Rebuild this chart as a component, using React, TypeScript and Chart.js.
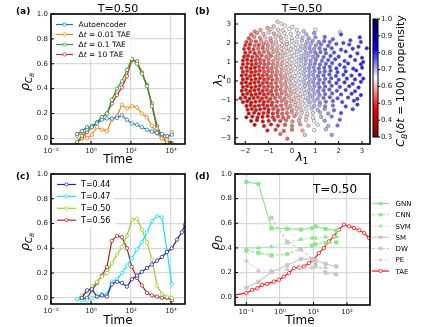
import { useEffect, useRef } from 'react';
import { Chart, registerables } from 'chart.js';

Chart.register(...registerables);

const W = 424;
const H = 327;
const FF = "'DejaVu Sans', sans-serif";
const YW = 30;
const XH = 16;

// ---------------- Panel (a) ----------------
const timeA = [0.2, 0.35, 0.63, 1.1, 2, 3.5, 6.3, 11, 20, 35, 63, 110, 200, 350, 630, 1100, 2000, 3500, 6300, 11000];
const autoencoderA = [0.035, 0.06, 0.09, 0.09, 0.12, 0.15, 0.16, 0.16, 0.165, 0.185, 0.15, 0.12, 0.11, 0.09, 0.07, 0.055, 0.045, 0.035, 0.02, 0.03];
const tae001A = [0.02, 0.05, 0.0, 0.03, 0.09, 0.07, 0.06, 0.15, 0.18, 0.27, 0.24, 0.26, 0.25, 0.2, 0.17, 0.1, 0.04, 0.0, -0.01, 0.05];
const tae01A = [-0.03, 0.02, 0.07, 0.1, 0.13, 0.17, 0.2, 0.31, 0.4, 0.46, 0.55, 0.64, 0.6, 0.52, 0.42, 0.26, 0.08, 0.0, -0.03, -0.04];
const tae10A = [-0.035, 0.0, 0.05, 0.09, 0.13, 0.17, 0.2, 0.28, 0.35, 0.41, 0.5, 0.63, 0.62, 0.53, 0.43, 0.28, 0.1, 0.02, -0.01, -0.04];

// ---------------- Panel (c) ----------------
const timeC = [0.2, 0.35, 0.63, 1.1, 2, 3.5, 6.3, 11, 20, 35, 63, 110, 200, 350, 630, 1100, 2000, 3500, 6300, 11000, 20000, 35000, 50000];
const t044C = [null, 0.0, 0.06, 0.07, 0.01, 0.02, 0.01, 0.11, 0.13, 0.12, 0.09, 0.15, 0.18, 0.21, 0.24, 0.27, 0.3, 0.33, 0.37, 0.4, 0.47, 0.53, 0.59];
const t047C = [-0.01, -0.02, -0.02, 0.0, 0.01, 0.03, 0.03, 0.13, 0.15, 0.2, 0.26, 0.32, 0.39, 0.45, 0.53, 0.62, 0.66, 0.65, 0.38, 0.11, null, null, null];
const t050C = [-0.01, 0.02, 0.05, 0.09, 0.13, 0.17, 0.2, 0.28, 0.35, 0.41, 0.5, 0.63, 0.64, 0.55, 0.45, 0.31, 0.1, 0.03, 0.01, 0.0, null, null, null];
const t056C = [null, -0.01, 0.0, 0.06, 0.12, 0.18, 0.25, 0.46, 0.5, 0.49, 0.4, 0.25, 0.16, 0.1, 0.04, 0.02, 0.01, 0.0, 0.0, -0.02, null, null, null];

// ---------------- Panel (d) ----------------
const timeD = [0.1, 0.23, 0.56, 1.66, 4.2, 9.1, 11.5, 23, 48];
const gnnD = [0.935, 0.92, 0.56, 0.555, 0.55, 0.56, 0.575, 0.555, 0.54];
const cnnD = [0.38, 0.36, 0.34, 0.35, 0.39, 0.42, 0.43, 0.44, 0.445];
const svmD = [0.39, 0.4, 0.41, 0.44, 0.47, 0.48, 0.48, 0.49, 0.49];
const smD = [0.075, 0.125, 0.205, 0.26, 0.31, 0.31, 0.3, 0.27, 0.25];
const dwD = [null, null, 0.645, 0.45, 0.39, 0.31, 0.27, 0.2, 0.185];
const peD = [0.295, 0.215, 0.215, 0.225, 0.235, 0.24, 0.245, 0.24, null];
const timeTaeD = [0.0316, 0.1, 0.148, 0.214, 0.295, 0.417, 0.661, 0.933, 1.32, 1.86, 2.63, 3.72, 5.25, 7.41, 10.2, 14.5, 20.4, 28.8, 40.7, 57.5, 81.3, 115, 162, 229, 324, 457, 708];
const taeD = [0.012, 0.033, 0.06, 0.073, 0.1, 0.108, 0.127, 0.141, 0.168, 0.195, 0.236, 0.241, 0.25, 0.277, 0.304, 0.358, 0.399, 0.453, 0.494, 0.548, 0.589, 0.575, 0.562, 0.543, 0.521, 0.481, 0.42];

// ---------------- Panel (b): [lambda1, lambda2, C_B propensity] ----------------
const scatterPoints = [
  [-0.62,3.12,.62],[-0.45,3.02,.64],
  [-1.05,2.8,.59],[-0.78,2.88,.61],[-0.3,2.92,.64],[0.02,2.85,.66],
  [-1.6,2.6,.57],[-1.35,2.68,.59],[-0.92,2.72,.61],[-0.6,2.7,.62],[-0.4,2.66,.63],[-0.12,2.74,.65],[0.2,2.68,.66],[0.5,2.62,.69],[1.0,2.7,.66],[2.05,2.58,.67],
  [-1.75,2.45,.54],[-1.5,2.52,.57],[-1.22,2.48,.59],[-1.0,2.55,.61],[-0.78,2.5,.59],[-0.55,2.45,.62],[-0.32,2.52,.64],[-0.05,2.48,.66],[0.28,2.5,.67],[0.62,2.45,.7],[0.95,2.52,.72],[1.4,2.32,.76],[2.1,2.45,.78],[2.9,2.3,.79],
  [-1.85,2.25,.52],[-1.62,2.32,.56],[-1.38,2.28,.57],[-1.15,2.3,.61],[-0.92,2.25,.59],[-0.7,2.32,.62],[-0.48,2.28,.61],[-0.25,2.3,.64],[0.0,2.25,.66],[0.22,2.32,.67],[0.45,2.28,.69],[0.72,2.25,.71],[1.0,2.3,.73],[1.75,2.2,.76],[2.5,2.14,.78],
  [-1.95,2.05,.51],[-1.75,2.1,.54],[-1.55,2.08,.52],[-1.32,2.12,.57],[-1.1,2.05,.59],[-0.9,2.1,.57],[-0.68,2.08,.61],[-0.45,2.12,.62],[-0.22,2.05,.64],[0.0,2.1,.66],[0.2,2.05,.66],[0.42,2.12,.69],[0.65,2.08,.7],[0.88,2.1,.72],[1.15,2.05,.74],[1.38,2.1,.75],[1.62,2.05,.76],[2.2,2.0,.78],[2.95,2.05,.79],
  [-2.0,1.88,.5],[-1.8,1.92,.49],[-1.6,1.86,.54],[-1.42,1.9,.52],[-1.22,1.94,.56],[-1.02,1.88,.57],[-0.82,1.92,.59],[-0.62,1.86,.61],[-0.42,1.9,.62],[-0.22,1.94,.61],[-0.02,1.88,.65],[0.18,1.92,.66],[0.38,1.86,.68],[0.58,1.9,.7],[0.8,1.94,.7],[1.02,1.88,.72],[1.25,1.92,.74],[1.55,1.85,.76],[1.9,1.95,.77],[2.45,1.92,.78],[2.85,1.8,.79],[3.2,1.72,.8],
  [-2.05,1.68,.49],[-1.85,1.72,.48],[-1.65,1.66,.51],[-1.45,1.7,.54],[-1.25,1.74,.52],[-1.05,1.68,.57],[-0.85,1.72,.58],[-0.65,1.66,.59],[-0.45,1.7,.62],[-0.25,1.74,.63],[-0.05,1.68,.62],[0.15,1.72,.66],[0.35,1.66,.68],[0.55,1.7,.7],[0.75,1.74,.72],[0.95,1.68,.72],[1.18,1.72,.74],[1.42,1.66,.76],[1.7,1.72,.77],[2.1,1.65,.78],[2.6,1.7,.79],
  [-2.0,1.48,.48],[-1.8,1.52,.5],[-1.6,1.46,.49],[-1.4,1.5,.52],[-1.2,1.54,.54],[-1.0,1.48,.55],[-0.8,1.52,.58],[-0.6,1.46,.59],[-0.4,1.5,.61],[-0.2,1.54,.63],[0.0,1.48,.65],[0.2,1.52,.67],[0.4,1.46,.66],[0.6,1.5,.7],[0.8,1.54,.72],[1.0,1.48,.74],[1.22,1.52,.75],[1.45,1.46,.76],[1.8,1.5,.77],[2.3,1.55,.78],[2.8,1.45,.79],
  [-2.05,1.28,.48],[-1.88,1.32,.48],[-1.7,1.26,.49],[-1.5,1.3,.51],[-1.3,1.34,.52],[-1.1,1.28,.55],[-0.9,1.32,.54],[-0.7,1.26,.58],[-0.5,1.3,.61],[-0.3,1.34,.62],[-0.1,1.28,.63],[0.1,1.32,.66],[0.3,1.26,.67],[0.5,1.3,.69],[0.7,1.34,.7],[0.9,1.28,.72],[1.1,1.32,.74],[1.35,1.26,.76],[1.65,1.32,.77],[2.0,1.28,.78],[2.5,1.3,.79],[3.0,1.22,.8],
  [-2.1,1.08,.48],[-1.92,1.12,.48],[-1.74,1.06,.48],[-1.56,1.1,.5],[-1.38,1.14,.51],[-1.2,1.08,.53],[-1.0,1.12,.55],[-0.8,1.06,.57],[-0.6,1.1,.59],[-0.4,1.14,.61],[-0.2,1.08,.62],[0.0,1.12,.65],[0.2,1.06,.67],[0.4,1.1,.69],[0.6,1.14,.7],[0.8,1.08,.72],[1.02,1.12,.74],[1.28,1.06,.75],[1.55,1.1,.77],[1.85,1.14,.78],[2.25,1.05,.78],[2.7,1.1,.79],[3.05,1.0,.8],
  [-2.1,0.88,.47],[-1.9,0.92,.48],[-1.72,0.86,.48],[-1.54,0.9,.49],[-1.36,0.94,.51],[-1.18,0.88,.52],[-1.0,0.92,.53],[-0.82,0.86,.56],[-0.62,0.9,.57],[-0.42,0.94,.59],[-0.22,0.88,.62],[-0.02,0.92,.63],[0.18,0.86,.66],[0.38,0.9,.67],[0.58,0.94,.7],[0.78,0.88,.72],[0.98,0.92,.74],[1.2,0.86,.75],[1.45,0.9,.76],[1.72,0.94,.77],[2.05,0.85,.78],[2.4,0.92,.79],[2.95,0.88,.8],
  [-2.15,0.68,.48],[-1.95,0.72,.46],[-1.77,0.66,.48],[-1.59,0.7,.48],[-1.41,0.74,.5],[-1.23,0.68,.51],[-1.05,0.72,.53],[-0.87,0.66,.54],[-0.67,0.7,.57],[-0.47,0.74,.59],[-0.27,0.68,.61],[-0.07,0.72,.63],[0.13,0.66,.65],[0.33,0.7,.67],[0.53,0.74,.69],[0.73,0.68,.72],[0.93,0.72,.73],[1.15,0.66,.75],[1.38,0.7,.76],[1.62,0.74,.77],[1.9,0.66,.78],[2.25,0.72,.78],[2.62,0.65,.79],[3.0,0.7,.8],
  [-2.1,0.48,.47],[-1.92,0.52,.48],[-1.74,0.46,.46],[-1.56,0.5,.49],[-1.38,0.54,.5],[-1.2,0.48,.51],[-1.02,0.52,.52],[-0.84,0.46,.54],[-0.64,0.5,.56],[-0.44,0.54,.59],[-0.24,0.48,.61],[-0.04,0.52,.62],[0.16,0.46,.65],[0.36,0.5,.67],[0.56,0.54,.69],[0.76,0.48,.71],[0.96,0.52,.73],[1.18,0.46,.75],[1.4,0.5,.76],[1.65,0.54,.77],[1.95,0.46,.78],[2.3,0.5,.79],[2.75,0.55,.8],
  [-2.15,0.28,.46],[-1.97,0.32,.48],[-1.79,0.26,.46],[-1.61,0.3,.48],[-1.43,0.34,.49],[-1.25,0.28,.5],[-1.07,0.32,.51],[-0.89,0.26,.53],[-0.69,0.3,.54],[-0.49,0.34,.57],[-0.29,0.28,.59],[-0.09,0.32,.62],[0.11,0.26,.64],[0.31,0.3,.66],[0.51,0.34,.69],[0.71,0.28,.71],[0.91,0.32,.72],[1.12,0.26,.75],[1.35,0.3,.76],[1.6,0.34,.77],[1.88,0.26,.78],[2.2,0.32,.78],[2.55,0.28,.79],[2.9,0.32,.8],
  [-2.1,0.08,.45],[-1.92,0.12,.46],[-1.74,0.06,.48],[-1.56,0.1,.46],[-1.38,0.14,.48],[-1.2,0.08,.5],[-1.02,0.12,.51],[-0.84,0.06,.52],[-0.64,0.1,.54],[-0.44,0.14,.57],[-0.24,0.08,.59],[-0.04,0.12,.61],[0.16,0.06,.64],[0.36,0.1,.66],[0.56,0.14,.69],[0.76,0.08,.7],[0.96,0.12,.72],[1.18,0.06,.75],[1.42,0.1,.76],[1.68,0.14,.77],[2.0,0.06,.78],[2.35,0.12,.79],[2.7,0.08,.79],[3.05,0.12,.8],
  [-2.15,-0.12,.45],[-1.97,-0.08,.46],[-1.79,-0.14,.45],[-1.61,-0.1,.48],[-1.43,-0.06,.48],[-1.25,-0.12,.5],[-1.07,-0.08,.5],[-0.89,-0.14,.52],[-0.69,-0.1,.53],[-0.49,-0.06,.57],[-0.29,-0.12,.57],[-0.09,-0.08,.61],[0.11,-0.14,.62],[0.31,-0.1,.66],[0.51,-0.06,.69],[0.71,-0.12,.7],[0.91,-0.08,.72],[1.12,-0.14,.74],[1.35,-0.1,.76],[1.6,-0.06,.77],[1.9,-0.12,.78],[2.25,-0.08,.79],[2.6,-0.15,.79],[2.95,-0.05,.8],
  [-2.1,-0.32,.45],[-1.92,-0.28,.46],[-1.74,-0.34,.46],[-1.56,-0.3,.48],[-1.38,-0.26,.48],[-1.2,-0.32,.5],[-1.02,-0.28,.51],[-0.84,-0.34,.52],[-0.64,-0.3,.53],[-0.44,-0.26,.57],[-0.24,-0.32,.57],[-0.04,-0.28,.61],[0.16,-0.34,.62],[0.36,-0.3,.66],[0.56,-0.26,.69],[0.76,-0.32,.7],[0.96,-0.28,.72],[1.18,-0.34,.75],[1.42,-0.3,.76],[1.7,-0.26,.77],[2.05,-0.32,.78],[2.45,-0.28,.79],[2.85,-0.35,.8],
  [-2.15,-0.52,.44],[-1.97,-0.48,.45],[-1.79,-0.54,.46],[-1.61,-0.5,.46],[-1.43,-0.46,.48],[-1.25,-0.52,.48],[-1.07,-0.48,.5],[-0.89,-0.54,.51],[-0.69,-0.5,.53],[-0.49,-0.46,.55],[-0.29,-0.52,.57],[-0.09,-0.48,.59],[0.11,-0.54,.62],[0.31,-0.5,.64],[0.51,-0.46,.67],[0.71,-0.52,.69],[0.91,-0.48,.71],[1.12,-0.54,.73],[1.35,-0.5,.75],[1.6,-0.46,.76],[1.92,-0.52,.77],[2.3,-0.48,.78],[2.7,-0.55,.79],
  [-2.1,-0.72,.44],[-1.92,-0.68,.46],[-1.74,-0.74,.44],[-1.56,-0.7,.48],[-1.38,-0.66,.48],[-1.2,-0.72,.48],[-1.02,-0.68,.5],[-0.84,-0.74,.51],[-0.64,-0.7,.53],[-0.44,-0.66,.55],[-0.24,-0.72,.57],[-0.04,-0.68,.59],[0.16,-0.74,.62],[0.36,-0.7,.64],[0.56,-0.66,.67],[0.76,-0.72,.7],[0.96,-0.68,.71],[1.18,-0.74,.73],[1.42,-0.7,.75],[1.72,-0.66,.76],[2.1,-0.72,.78],[2.55,-0.68,.79],[2.95,-0.75,.8],
  [-2.2,-0.92,.44],[-2.0,-0.88,.44],[-1.82,-0.94,.46],[-1.64,-0.9,.46],[-1.46,-0.86,.48],[-1.28,-0.92,.48],[-1.1,-0.88,.5],[-0.92,-0.94,.5],[-0.72,-0.9,.52],[-0.52,-0.86,.55],[-0.32,-0.92,.56],[-0.12,-0.88,.59],[0.08,-0.94,.61],[0.28,-0.9,.62],[0.48,-0.86,.66],[0.68,-0.92,.69],[0.88,-0.88,.7],[1.1,-0.94,.72],[1.35,-0.9,.75],[1.62,-0.86,.76],[1.95,-0.92,.77],[2.4,-0.88,.78],[2.8,-0.95,.79],
  [-2.1,-1.12,.44],[-1.92,-1.08,.46],[-1.74,-1.14,.44],[-1.56,-1.1,.46],[-1.38,-1.06,.48],[-1.2,-1.12,.48],[-1.02,-1.08,.5],[-0.84,-1.14,.51],[-0.64,-1.1,.52],[-0.44,-1.06,.55],[-0.24,-1.12,.56],[-0.04,-1.08,.59],[0.16,-1.14,.61],[0.36,-1.1,.62],[0.56,-1.06,.66],[0.76,-1.12,.69],[0.96,-1.08,.7],[1.2,-1.14,.72],[1.45,-1.1,.75],[1.75,-1.06,.76],[2.15,-1.12,.78],[2.65,-1.05,.79],
  [-1.95,-1.32,.44],[-1.77,-1.28,.46],[-1.59,-1.34,.46],[-1.41,-1.3,.48],[-1.23,-1.26,.48],[-1.05,-1.32,.48],[-0.87,-1.28,.5],[-0.67,-1.34,.52],[-0.47,-1.3,.53],[-0.27,-1.26,.56],[-0.07,-1.32,.57],[0.13,-1.28,.61],[0.33,-1.34,.62],[0.53,-1.3,.64],[0.73,-1.26,.67],[0.95,-1.32,.7],[1.18,-1.28,.71],[1.42,-1.34,.73],[1.75,-1.3,.75],[2.3,-1.35,.78],[2.8,-1.25,.79],
  [-1.9,-1.52,.44],[-1.72,-1.48,.44],[-1.54,-1.54,.46],[-1.36,-1.5,.48],[-1.18,-1.46,.48],[-1.0,-1.52,.48],[-0.8,-1.48,.51],[-0.6,-1.54,.52],[-0.4,-1.5,.54],[-0.2,-1.46,.56],[0.0,-1.52,.59],[0.2,-1.48,.61],[0.4,-1.54,.62],[0.62,-1.5,.66],[0.85,-1.46,.69],[1.1,-1.52,.7],[1.4,-1.48,.72],[1.8,-1.55,.75],[2.6,-1.5,.78],
  [-1.85,-1.72,.42],[-1.62,-1.68,.44],[-1.42,-1.74,.46],[-1.22,-1.7,.48],[-1.02,-1.66,.48],[-0.82,-1.72,.5],[-0.62,-1.68,.51],[-0.42,-1.74,.53],[-0.22,-1.7,.54],[-0.02,-1.66,.57],[0.2,-1.72,.59],[0.42,-1.68,.62],[0.65,-1.74,.64],[0.9,-1.7,.67],[1.2,-1.66,.7],[1.55,-1.72,.72],[2.1,-1.7,.78],
  [-1.95,-1.92,.42],[-1.7,-1.88,.44],[-1.48,-1.94,.44],[-1.26,-1.9,.46],[-1.04,-1.86,.48],[-0.82,-1.92,.5],[-0.6,-1.88,.51],[-0.38,-1.94,.53],[-0.15,-1.9,.54],[0.1,-1.86,.57],[0.35,-1.92,.61],[0.62,-1.88,.62],[0.9,-1.94,.66],[1.25,-1.9,.7],[1.7,-1.88,.74],
  [-1.75,-2.12,.42],[-1.5,-2.08,.44],[-1.25,-2.14,.46],[-1.0,-2.1,.48],[-0.75,-2.06,.5],[-0.5,-2.12,.51],[-0.25,-2.08,.54],[0.02,-2.14,.56],[0.3,-2.1,.59],[0.6,-2.06,.62],[0.95,-2.12,.66],[1.4,-2.1,.72],[2.05,-2.05,.76],
  [-1.6,-2.32,.42],[-1.2,-2.38,.46],[-0.9,-2.3,.48],[-0.6,-2.36,.5],[-0.3,-2.32,.52],[0.0,-2.38,.55],[0.35,-2.3,.57],[0.7,-2.36,.61],[1.1,-2.32,.66],[1.55,-2.38,.7],[1.95,-2.35,.75],
  [-1.05,-2.62,.48],[-0.7,-2.58,.51],[-0.35,-2.64,.53],[0.0,-2.58,.55],[0.45,-2.62,.59],[0.95,-2.6,.64],[1.45,-2.55,.7],
  [-0.5,-2.8,.54],[0.55,-2.85,.61],[1.7,-2.85,.72],
  [-0.2,-3.05,.54],
];

// ---------------- Ticks ----------------
const timeTicksAC = [0.01, 1, 100, 10000];
const timeTickLabelsAC = ['10⁻²', '10⁰', '10²', '10⁴'];
const timeTicksD = [0.1, 1, 10, 100];
const timeTickLabelsD = ['10⁻¹', '10⁰', '10¹', '10²'];
const rhoTicks = [0, 0.2, 0.4, 0.6, 0.8, 1.0];
const rhoTickLabels = ['0.0', '0.2', '0.4', '0.6', '0.8', '1.0'];
const lambda1Ticks = [-2, -1, 0, 1, 2, 3];
const lambda1TickLabels = ['−2', '−1', '0', '1', '2', '3'];
const lambda2Ticks = [-3, -2, -1, 0, 1, 2, 3];
const lambda2TickLabels = ['−3', '−2', '−1', '0', '1', '2', '3'];
const cbarTicks = [0.3, 0.4, 0.5, 0.6, 0.7, 0.8, 0.9, 1.0];
const cbarTickLabels = ['0.3', '0.4', '0.5', '0.6', '0.7', '0.8', '0.9', '1.0'];

// ---------------- helpers ----------------
function seismicR(v: number) {
  let t = (v - 0.3) / 0.7;
  t = Math.max(0, Math.min(1, t));
  const s = 1 - t;
  let r, g, b;
  if (s < 0.25) { const f = s / 0.25; r = 0; g = 0; b = 0.3 + 0.7 * f; }
  else if (s < 0.5) { const f = (s - 0.25) / 0.25; r = f; g = f; b = 1; }
  else if (s < 0.75) { const f = (s - 0.5) / 0.25; r = 1; g = 1 - f; b = 1 - f; }
  else { const f = (s - 0.75) / 0.25; r = 1 - 0.5 * f; g = 0; b = 0; }
  return `rgb(${Math.round(r * 255)},${Math.round(g * 255)},${Math.round(b * 255)})`;
}

const pts = (xs: number[], ys: (number | null)[]) =>
  xs.map((x, i) => ({ x, y: ys[i] })).filter((p) => p.y !== null && p.y !== undefined);

type Part = { t: string; size: number; dy?: number; style?: string };

function drawRich(ctx: any, parts: Part[], x: number, y: number, align = 'center', rot = 0, color = '#000') {
  ctx.save();
  ctx.translate(x, y);
  if (rot) ctx.rotate(rot);
  ctx.textBaseline = 'alphabetic';
  ctx.textAlign = 'left';
  ctx.fillStyle = color;
  let total = 0;
  const widths = parts.map((p) => {
    ctx.font = `${p.style ?? ''} ${p.size}px ${FF}`;
    const w = ctx.measureText(p.t).width;
    total += w;
    return w;
  });
  let cx = align === 'center' ? -total / 2 : align === 'right' ? -total : 0;
  parts.forEach((p, i) => {
    ctx.font = `${p.style ?? ''} ${p.size}px ${FF}`;
    ctx.fillText(p.t, cx, p.dy ?? 0);
    cx += widths[i];
  });
  ctx.restore();
}

function drawMarker(ctx: any, m: string, x: number, y: number, r: number, color: string, open: boolean) {
  ctx.save();
  ctx.setLineDash([]);
  ctx.beginPath();
  if (m === 'circle') ctx.arc(x, y, r, 0, Math.PI * 2);
  else if (m === 'rect') ctx.rect(x - r, y - r, 2 * r, 2 * r);
  else { ctx.moveTo(x, y - r * 1.2); ctx.lineTo(x + r, y + r * 0.7); ctx.lineTo(x - r, y + r * 0.7); ctx.closePath(); }
  if (open) { ctx.fillStyle = '#fff'; ctx.fill(); ctx.lineWidth = 0.8; ctx.strokeStyle = color; ctx.stroke(); }
  else { ctx.fillStyle = color; ctx.fill(); }
  ctx.restore();
}

type LegendEntry = { parts: Part[]; color: string; dash?: number[]; marker: string; open: boolean; r: number };
type LegendSpec = { items: LegendEntry[]; x0: number; x1: number; xt: number; y0: number; dy: number; size: number };

function drawLegend(ctx: any, L: LegendSpec) {
  L.items.forEach((it, i) => {
    const y = L.y0 + i * L.dy;
    ctx.save();
    ctx.strokeStyle = it.color;
    ctx.lineWidth = 1.2;
    ctx.setLineDash(it.dash ?? []);
    ctx.beginPath();
    ctx.moveTo(L.x0, y);
    ctx.lineTo(L.x1, y);
    ctx.stroke();
    ctx.restore();
    drawMarker(ctx, it.marker, (L.x0 + L.x1) / 2, y, it.r, it.color, it.open);
    drawRich(ctx, it.parts, L.xt, y + L.size * 0.36, 'left');
  });
}

type TextSpec = { parts: Part[]; x: number; y: number; align?: string; rot?: number };
type Decor = { ticks?: boolean; box?: number[]; legend?: LegendSpec; texts: TextSpec[] };

function decorPlugin(d: Decor) {
  return {
    id: 'decor',
    afterDraw(chart: any) {
      const { ctx, chartArea: a, scales } = chart;
      ctx.save();
      if (d.box) { ctx.fillStyle = 'rgba(255,255,255,0.85)'; ctx.fillRect(d.box[0], d.box[1], d.box[2], d.box[3]); }
      if (d.legend) drawLegend(ctx, d.legend);
      if (d.ticks) {
        ctx.strokeStyle = '#000';
        ctx.lineWidth = 1;
        ctx.beginPath();
        for (const t of scales.x.ticks) {
          const p = scales.x.getPixelForValue(t.value);
          ctx.moveTo(p, a.bottom); ctx.lineTo(p, a.bottom - 3);
        }
        for (const t of scales.y.ticks) {
          const p = scales.y.getPixelForValue(t.value);
          ctx.moveTo(a.left, p); ctx.lineTo(a.left + 3, p);
        }
        ctx.stroke();
      }
      ctx.strokeStyle = '#000';
      ctx.lineWidth = 1.6;
      ctx.strokeRect(a.left, a.top, a.right - a.left, a.bottom - a.top);
      for (const t of d.texts) drawRich(ctx, t.parts, t.x, t.y, t.align ?? 'center', t.rot ?? 0);
      ctx.restore();
    },
  };
}

const tickFont = { family: FF, size: 7 };
const GRID = '#d8d8d8';

function xScale(type: string, min: number, max: number, ticks: number[], labels: string[], grid: boolean) {
  return {
    type, min, max, position: 'bottom',
    afterBuildTicks: (s: any) => { s.ticks = ticks.map((v) => ({ value: v })); },
    afterFit: (s: any) => { s.height = XH; s.paddingLeft = 0; s.paddingRight = 0; s.paddingTop = 0; s.paddingBottom = 0; },
    ticks: { autoSkip: false, maxRotation: 0, minRotation: 0, padding: 3, color: '#222', font: tickFont, callback: (_v: any, i: number) => labels[i] },
    grid: { display: grid, color: GRID, lineWidth: 1.2, drawTicks: false },
    border: { display: false },
  };
}

function yScale(min: number, max: number, ticks: number[], labels: string[], grid: boolean, pad = 3) {
  return {
    type: 'linear', min, max, position: 'left',
    afterBuildTicks: (s: any) => { s.ticks = ticks.map((v) => ({ value: v })); },
    afterFit: (s: any) => { s.width = YW; s.paddingLeft = 0; s.paddingRight = 0; s.paddingTop = 0; s.paddingBottom = 0; },
    ticks: { autoSkip: false, padding: pad, color: '#222', font: tickFont, callback: (_v: any, i: number) => labels[i] },
    grid: { display: grid, color: GRID, lineWidth: 1.2, drawTicks: false },
    border: { display: false },
  };
}

function baseOptions(l: number, t: number, r: number, b: number, xs: any, ys: any) {
  return {
    responsive: false,
    animation: false,
    devicePixelRatio: 1,
    events: [],
    layout: { autoPadding: false, padding: { left: l - YW, top: t, right: W - r, bottom: H - b - XH } },
    plugins: { legend: { display: false }, tooltip: { enabled: false }, title: { display: false } },
    scales: { x: xs, y: ys },
  };
}

function lineDs(data: any[], color: string, o: any = {}) {
  return {
    data,
    borderColor: color,
    borderWidth: o.width ?? 1.2,
    borderDash: o.dash ?? [],
    pointStyle: o.marker ?? 'circle',
    pointRadius: o.r ?? 1.7,
    pointBackgroundColor: o.open === false ? color : '#fff',
    pointBorderColor: color,
    pointBorderWidth: 0.8,
    tension: 0,
    fill: false,
  };
}

const rhoCB = (x: number, y: number): TextSpec => ({
  parts: [
    { t: 'ρ', size: 12.5, style: 'italic' },
    { t: 'C', size: 8.5, style: 'italic', dy: 3 },
    { t: 'B', size: 6, style: 'italic', dy: 5 },
  ],
  x, y, rot: -Math.PI / 2,
});

const deltaLabel = (v: string): Part[] => [
  { t: 'Δ', size: 7.5 },
  { t: 't', size: 7.5, style: 'italic' },
  { t: ` = ${v} TAE`, size: 7.5 },
];

// colors
const C_AE = '#1f77b4', C_001 = '#ff7f0e', C_01 = '#2ca02c', C_10 = '#d62728';
const C_044 = '#27279a', C_047 = '#12e4f0', C_050 = '#9acd32', C_056 = '#a2282a';
const LG = '#8ee58e', GR = '#c8c8c8', RED = '#ff1010';

export default function App() {
  const r0 = useRef<HTMLCanvasElement>(null);
  const r1 = useRef<HTMLCanvasElement>(null);
  const r2 = useRef<HTMLCanvasElement>(null);
  const r3 = useRef<HTMLCanvasElement>(null);
  const r4 = useRef<HTMLCanvasElement>(null);

  useEffect(() => {
    const charts: any[] = [];

    // (a)
    charts.push(new Chart(r0.current as any, {
      type: 'line',
      data: {
        datasets: [
          lineDs(pts(timeA, autoencoderA), C_AE),
          lineDs(pts(timeA, tae001A), C_001),
          lineDs(pts(timeA, tae01A), C_01),
          lineDs(pts(timeA, tae10A), C_10),
        ],
      },
      options: baseOptions(51, 14, 185, 144,
        xScale('logarithmic', 0.01, Math.pow(10, 4.7), timeTicksAC, timeTickLabelsAC, true),
        yScale(-0.045, 1.0, rhoTicks, rhoTickLabels, true)) as any,
      plugins: [decorPlugin({
        ticks: true,
        box: [53, 17, 78, 43],
        legend: {
          x0: 56, x1: 73, xt: 78.5, y0: 24.5, dy: 10, size: 7.5,
          items: [
            { parts: [{ t: 'Autoencoder', size: 7.5 }], color: C_AE, marker: 'circle', open: true, r: 1.6 },
            { parts: deltaLabel('0.01'), color: C_001, marker: 'circle', open: true, r: 1.6 },
            { parts: deltaLabel('0.1'), color: C_01, marker: 'circle', open: true, r: 1.6 },
            { parts: deltaLabel('10'), color: C_10, marker: 'circle', open: true, r: 1.6 },
          ],
        },
        texts: [
          { parts: [{ t: '(a)', size: 9, style: 'bold' }], x: 16, y: 13.5, align: 'left' },
          { parts: [{ t: 'T=0.50', size: 11 }], x: 118, y: 12 },
          { parts: [{ t: 'Time', size: 12 }], x: 118, y: 162.5 },
          rhoCB(29, 82),
        ],
      })] as any,
    } as any));

    // (b)
    charts.push(new Chart(r1.current as any, {
      type: 'scatter',
      data: {
        datasets: [{
          data: scatterPoints.map((p) => ({ x: p[0], y: p[1] })),
          pointBackgroundColor: scatterPoints.map((p) => seismicR(p[2])),
          pointBorderColor: 'rgba(95,95,95,0.85)',
          pointBorderWidth: 0.6,
          pointRadius: 1.8,
        }],
      },
      options: baseOptions(235, 14, 370, 144,
        xScale('linear', -2.44, 3.34, lambda1Ticks, lambda1TickLabels, false),
        yScale(-3.33, 3.53, lambda2Ticks, lambda2TickLabels, false, 4)) as any,
      plugins: [decorPlugin({
        ticks: true,
        texts: [
          { parts: [{ t: '(b)', size: 9, style: 'bold' }], x: 195, y: 13.5, align: 'left' },
          { parts: [{ t: 'T=0.50', size: 11 }], x: 302, y: 12 },
          { parts: [{ t: 'λ', size: 12, style: 'italic' }, { t: '1', size: 8.5, dy: 3 }], x: 302, y: 161 },
          { parts: [{ t: 'λ', size: 12, style: 'italic' }, { t: '2', size: 8.5, dy: 3 }], x: 222, y: 80, rot: -Math.PI / 2 },
          {
            parts: [
              { t: 'C', size: 11, style: 'italic' },
              { t: 'B', size: 7.7, style: 'italic', dy: 2.5 },
              { t: '(', size: 11 },
              { t: 'δt', size: 11, style: 'italic' },
              { t: ' = 100)', size: 11 },
              { t: ' propensity', size: 11 },
            ],
            x: 404, y: 81, rot: -Math.PI / 2,
          },
        ],
      })] as any,
    } as any));

    // colorbar
    const CBW = 20;
    charts.push(new Chart(r2.current as any, {
      type: 'scatter',
      data: { datasets: [] },
      options: {
        responsive: false, animation: false, devicePixelRatio: 1, events: [],
        layout: { autoPadding: false, padding: { left: 373, top: 19, right: W - 378 - CBW, bottom: H - 137 } },
        plugins: { legend: { display: false }, tooltip: { enabled: false } },
        scales: {
          x: { display: false, min: 0, max: 1 },
          y: {
            type: 'linear', position: 'right', min: 0.3, max: 1.0,
            afterBuildTicks: (s: any) => { s.ticks = cbarTicks.map((v) => ({ value: v })); },
            afterFit: (s: any) => { s.width = CBW; s.paddingTop = 0; s.paddingBottom = 0; },
            ticks: { autoSkip: false, padding: 3, color: '#222', font: tickFont, callback: (_v: any, i: number) => cbarTickLabels[i] },
            grid: { display: false, drawTicks: false },
            border: { display: false },
          },
        },
      } as any,
      plugins: [{
        id: 'cbar',
        afterDraw(chart: any) {
          const { ctx, chartArea: a, scales } = chart;
          ctx.save();
          const g = ctx.createLinearGradient(0, a.bottom, 0, a.top);
          [0, 0.25, 0.5, 0.75, 1].forEach((p) => g.addColorStop(p, seismicR(0.3 + 0.7 * p)));
          ctx.fillStyle = g;
          ctx.fillRect(a.left, a.top, a.right - a.left, a.bottom - a.top);
          ctx.strokeStyle = '#000';
          ctx.lineWidth = 1;
          ctx.strokeRect(a.left, a.top, a.right - a.left, a.bottom - a.top);
          ctx.beginPath();
          for (const t of scales.y.ticks) {
            const p = scales.y.getPixelForValue(t.value);
            ctx.moveTo(a.right, p); ctx.lineTo(a.right + 2, p);
          }
          ctx.stroke();
          ctx.restore();
        },
      }] as any,
    } as any));

    // (c)
    charts.push(new Chart(r3.current as any, {
      type: 'line',
      data: {
        datasets: [
          lineDs(pts(timeC, t044C), C_044),
          lineDs(pts(timeC, t047C), C_047),
          lineDs(pts(timeC, t050C), C_050),
          lineDs(pts(timeC, t056C), C_056),
        ],
      },
      options: baseOptions(51, 174, 185, 304,
        xScale('logarithmic', 0.01, Math.pow(10, 4.7), timeTicksAC, timeTickLabelsAC, true),
        yScale(-0.05, 1.0, rhoTicks, rhoTickLabels, true)) as any,
      plugins: [decorPlugin({
        ticks: true,
        box: [53, 177, 62, 50],
        legend: {
          x0: 57, x1: 76, xt: 81, y0: 184.5, dy: 11.9, size: 8,
          items: [
            { parts: [{ t: 'T=0.44', size: 8 }], color: C_044, marker: 'circle', open: true, r: 1.6 },
            { parts: [{ t: 'T=0.47', size: 8 }], color: C_047, marker: 'circle', open: true, r: 1.6 },
            { parts: [{ t: 'T=0.50', size: 8 }], color: C_050, marker: 'circle', open: true, r: 1.6 },
            { parts: [{ t: 'T=0.56', size: 8 }], color: C_056, marker: 'circle', open: true, r: 1.6 },
          ],
        },
        texts: [
          { parts: [{ t: '(c)', size: 9, style: 'bold' }], x: 16, y: 179, align: 'left' },
          { parts: [{ t: 'Time', size: 12 }], x: 118, y: 324 },
          rhoCB(29, 242),
        ],
      })] as any,
    } as any));

    // (d)
    charts.push(new Chart(r4.current as any, {
      type: 'line',
      data: {
        datasets: [
          lineDs(pts(timeD, smD), GR, { marker: 'rect', r: 2.4, open: false }),
          lineDs(pts(timeD, dwD), GR, { marker: 'rect', r: 2.4, open: false, dash: [3, 2] }),
          lineDs(pts(timeD, peD), GR, { marker: 'triangle', r: 2.2, open: false, dash: [1, 1.5] }),
          lineDs(pts(timeD, gnnD), LG, { marker: 'rect', r: 2.4, open: false }),
          lineDs(pts(timeD, cnnD), LG, { marker: 'rect', r: 2.4, open: false, dash: [3, 2] }),
          lineDs(pts(timeD, svmD), LG, { marker: 'triangle', r: 2.2, open: false, dash: [1, 1.5] }),
          lineDs(pts(timeTaeD, taeD), RED, { r: 1.7 }),
        ],
      },
      options: baseOptions(235, 174, 370, 305,
        xScale('logarithmic', Math.pow(10, -1.337), Math.pow(10, 2.685), timeTicksD, timeTickLabelsD, true),
        yScale(-0.063, 1.0, rhoTicks, rhoTickLabels, true)) as any,
      plugins: [decorPlugin({
        ticks: true,
        legend: {
          x0: 372, x1: 389, xt: 395.5, y0: 203.5, dy: 11.25, size: 7,
          items: [
            { parts: [{ t: 'GNN', size: 7 }], color: LG, marker: 'rect', open: false, r: 1.7 },
            { parts: [{ t: 'CNN', size: 7 }], color: LG, dash: [3, 2], marker: 'rect', open: false, r: 1.7 },
            { parts: [{ t: 'SVM', size: 7 }], color: LG, dash: [1, 1.5], marker: 'triangle', open: false, r: 1.9 },
            { parts: [{ t: 'SM', size: 7 }], color: GR, marker: 'rect', open: false, r: 1.7 },
            { parts: [{ t: 'DW', size: 7 }], color: GR, dash: [3, 2], marker: 'rect', open: false, r: 1.7 },
            { parts: [{ t: 'PE', size: 7 }], color: GR, dash: [1, 1.5], marker: 'triangle', open: false, r: 1.9 },
            { parts: [{ t: 'TAE', size: 7 }], color: RED, marker: 'circle', open: true, r: 1.7 },
          ],
        },
        texts: [
          { parts: [{ t: '(d)', size: 9, style: 'bold' }], x: 195, y: 179, align: 'left' },
          { parts: [{ t: 'T=0.50', size: 12 }], x: 313, y: 193, align: 'left' },
          { parts: [{ t: 'Time', size: 12 }], x: 300, y: 324 },
          { parts: [{ t: 'ρ', size: 12.5, style: 'italic' }, { t: 'D', size: 8.5, style: 'italic', dy: 3 }], x: 219, y: 243, rot: -Math.PI / 2 },
        ],
      })] as any,
    } as any));

    return () => charts.forEach((c) => c.destroy());
  }, []);

  const cs: any = { position: 'absolute', left: 0, top: 0, width: W, height: H };
  return (
    <div style={{ position: 'fixed', left: 0, top: 0, width: W, height: H, background: '#fff', overflow: 'hidden' }}>
      <canvas ref={r0} width={W} height={H} style={cs} />
      <canvas ref={r1} width={W} height={H} style={cs} />
      <canvas ref={r2} width={W} height={H} style={cs} />
      <canvas ref={r3} width={W} height={H} style={cs} />
      <canvas ref={r4} width={W} height={H} style={cs} />
    </div>
  );
}
